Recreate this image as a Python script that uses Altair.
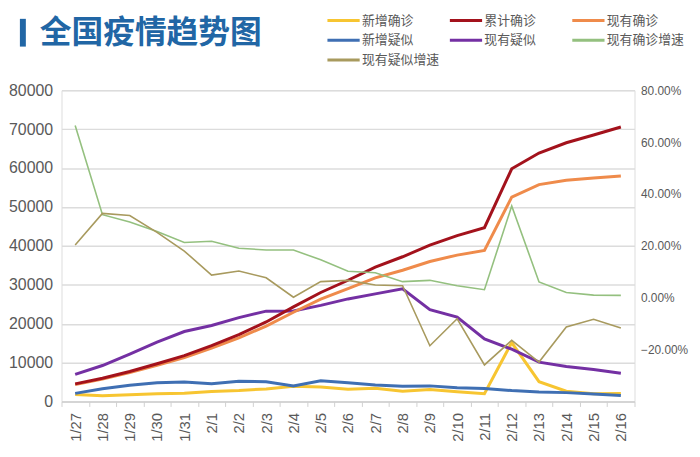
import altair as alt
import pandas as pd

dates = ["1/27", "1/28", "1/29", "1/30", "1/31", "2/1", "2/2", "2/3", "2/4", "2/5",
         "2/6", "2/7", "2/8", "2/9", "2/10", "2/11", "2/12", "2/13", "2/14", "2/15", "2/16"]

new_confirmed = [1771, 1459, 1737, 1982, 2102, 2590, 2829, 3235, 3887, 3694,
                 3143, 3399, 2656, 3062, 2478, 2015, 15152, 5090, 2641, 2009, 2048]
cum_confirmed = [4515, 5974, 7711, 9692, 11791, 14380, 17205, 20438, 24324, 28018,
                 31161, 34546, 37198, 40171, 42638, 44653, 59804, 63851, 66492, 68500, 70548]
cur_confirmed = [4349, 5739, 7417, 9308, 11289, 13748, 16369, 19381, 22942, 26302,
                 28985, 31774, 33738, 35982, 37626, 38800, 52526, 55748, 56873, 57416, 57934]
new_suspected = [2077, 3248, 4148, 4812, 5019, 4562, 5173, 5072, 3971, 5328,
                 4833, 4214, 3916, 4008, 3536, 3342, 2807, 2450, 2277, 1918, 1563]
cur_suspected = [6973, 9239, 12167, 15238, 17988, 19544, 21558, 23214, 23260, 24702,
                 26359, 27657, 28942, 23589, 21675, 16067, 13435, 10109, 8969, 8228, 7264]
cur_confirmed_growth = [0.664, 0.320, 0.292, 0.255, 0.213, 0.218, 0.191, 0.184, 0.184, 0.146,
                        0.102, 0.096, 0.062, 0.067, 0.046, 0.031, 0.354, 0.061, 0.020, 0.010, 0.009]
cur_suspected_growth = [0.203, 0.325, 0.317, 0.252, 0.180, 0.087, 0.103, 0.077, 0.002, 0.062,
                        0.067, 0.049, 0.046, -0.185, -0.081, -0.259, -0.164, -0.248, -0.113, -0.083, -0.117]

series_names = ["新增确诊", "累计确诊", "现有确诊", "新增疑似", "现有疑似", "现有确诊增速", "现有疑似增速"]
series_colors = ["#f7c531", "#a3121c", "#ef8b4b", "#3f6fb3", "#7430a3", "#94c07f", "#a89a5e"]

title_text = ["全国疫情趋势图"]

count_series = {
    "新增确诊": new_confirmed,
    "新增疑似": new_suspected,
    "现有疑似": cur_suspected,
    "现有确诊": cur_confirmed,
    "累计确诊": cum_confirmed,
}
growth_series = {
    "现有确诊增速": cur_confirmed_growth,
    "现有疑似增速": cur_suspected_growth,
}

count_rows = []
for name, vals in count_series.items():
    for d, v in zip(dates, vals):
        count_rows.append({"date": d, "series": name, "value": v})
growth_rows = []
for name, vals in growth_series.items():
    for d, v in zip(dates, vals):
        growth_rows.append({"date": d, "series": name, "value": v})
counts_df = pd.DataFrame(count_rows)
growth_df = pd.DataFrame(growth_rows)

label_font = "Liberation Sans"
gray = "#595959"

x_enc = alt.X(
    "date:N", sort=dates, bandPosition=0.5,
    scale=alt.Scale(type="band", paddingInner=0, paddingOuter=0),
    axis=alt.Axis(title=None, labelAngle=-90, tickBand="extent", labelFont=label_font,
                  labelFontSize=15, labelColor=gray, labelPadding=6, domainColor="#d0d0d0",
                  domainWidth=1.5, tickColor="#d0d0d0", tickSize=5, grid=False),
)

color_enc = alt.Color(
    "series:N", title=None,
    scale=alt.Scale(domain=series_names, range=series_colors),
    legend=alt.Legend(orient="none", legendX=272, legendY=-83, columns=3, direction="horizontal",
                      gridAlign="all", symbolType="M-1.5,0H1.5", symbolSize=470,
                      symbolStrokeWidth=3, symbolFillColor="transparent",
                      labelFont="Noto Sans CJK SC", labelFontSize=13, labelColor=gray,
                      labelOffset=6, columnPadding=3.5, rowPadding=0, labelLimit=200),
)

counts = alt.Chart(counts_df).mark_line(strokeWidth=3).encode(
    x=x_enc,
    y=alt.Y("value:Q", title=None,
            scale=alt.Scale(domain=[0, 80000]),
            axis=alt.Axis(orient="left", values=list(range(0, 80001, 10000)), format="d",
                          grid=True, gridColor="#dcdcdc", gridWidth=1.5, domain=False,
                          ticks=False, labelFont=label_font, labelFontSize=16,
                          labelColor=gray, labelPadding=9)),
    color=color_enc,
)

growth = alt.Chart(growth_df).mark_line(strokeWidth=1.6).encode(
    x=x_enc,
    y=alt.Y("value:Q", title=None,
            scale=alt.Scale(domain=[-0.4, 0.8]),
            axis=alt.Axis(orient="right", values=[-0.2, 0, 0.2, 0.4, 0.6, 0.8], format=".2%",
                          grid=False, domain=False, ticks=False, labelFont=label_font,
                          labelFontSize=12, labelColor=gray, labelPadding=6)),
    color=color_enc,
)

bar = alt.Chart(pd.DataFrame({"k": [0]})).mark_rule(color="#2166a5", strokeWidth=6).encode(
    x=alt.value(-39), y=alt.value(-72), y2=alt.value(-44)
)

title = alt.Chart(pd.DataFrame({"t": title_text})).mark_text(
    align="left", baseline="middle", font="Noto Sans CJK SC", fontSize=32,
    fontWeight="bold", color="#2166a5"
).encode(text="t:N", x=alt.value(-22), y=alt.value(-58))

chart = alt.layer(counts, growth, bar, title).resolve_scale(y="independent").properties(
    width=578, height=314,
    autosize=alt.AutoSizeParams(type="none"),
    padding={"left": 54, "top": 81, "right": 58, "bottom": 46},
).configure_view(stroke=None).configure(background="white")

chart.save("out.html", embed_options={"renderer": "svg", "actions": False})
